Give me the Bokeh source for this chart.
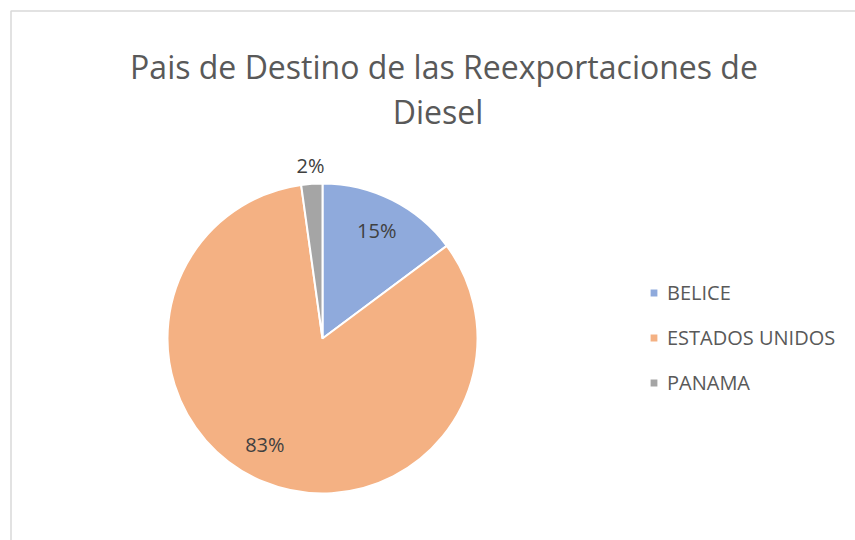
import math
from bokeh.plotting import figure
from bokeh.models import ColumnDataSource, Range1d, Legend, LegendItem
from bokeh.core.properties import value
from bokeh.embed import file_html
from bokeh.resources import INLINE

# ---- data ----
categories = ["BELICE", "ESTADOS UNIDOS", "PANAMA"]
shares = [14.8, 83.0, 2.2]
colors = ["#8FAADC", "#F4B183", "#A5A5A5"]
title_lines = ["Pais de Destino de las Reexportaciones de", "Diesel"]

W, H = 855, 540
FONT = "Open Sans"

p = figure(width=W, height=H, output_backend="svg", toolbar_location=None,
           x_range=Range1d(0, W), y_range=Range1d(0, H),
           min_border=0, outline_line_color=None)
p.axis.visible = False
p.grid.visible = False
p.background_fill_color = "white"
p.border_fill_color = "white"

# chart-area border (extends past right/bottom edge)
p.quad(left=[10.5], right=[W + 50], top=[H - 10.5], bottom=[-50],
       fill_color=None, line_color="#D9D9D9", line_width=1.5)

# pie geometry
cx, cy, r = 322, 202, 155
total = sum(shares)
starts, ends, mids = [], [], []
cum = 0.0
for s in shares:
    a0 = math.pi / 2 - cum / total * 2 * math.pi
    cum += s
    a1 = math.pi / 2 - cum / total * 2 * math.pi
    starts.append(a0)
    ends.append(a1)
    mids.append((a0 + a1) / 2)

src = ColumnDataSource(dict(cat=categories, start=starts, end=ends, color=colors))
wedges = p.wedge(x=cx, y=cy, radius=r, start_angle="start", end_angle="end",
                 direction="clock", fill_color="color", line_color="white",
                 line_width=2, source=src)

# data labels (best-fit style nudges, layout only)
label_nudge = [(0, 0), (-11, 6), (0, 0)]
lx, ly, lt = [], [], []
for s, m, (nx, ny) in zip(shares, mids, label_nudge):
    f = 1.12 if s / total < 0.05 else 0.78
    lx.append(cx + f * r * math.cos(m) + nx)
    ly.append(cy + f * r * math.sin(m) + ny)
    lt.append(f"{round(s / total * 100)}%")
p.text(x=lx, y=ly, text=lt, text_font=value(FONT), text_font_size="20px",
       text_color="#404040", text_align="center", text_baseline="middle")

# title
p.text(x=[443.5, 437.5], y=[H - 66, H - 111], text=title_lines, text_font=value(FONT),
       text_font_size="32px", text_color="#595959", text_align="center",
       text_baseline="alphabetic")

# legend
items = [LegendItem(label=c, renderers=[wedges], index=i) for i, c in enumerate(categories)]
legend = Legend(items=items, location=(648, 144), orientation="vertical",
                glyph_width=11, glyph_height=11, label_standoff=8,
                label_text_font=FONT, label_text_font_size="20px",
                label_text_color="#595959", label_height=20, spacing=18,
                padding=0, margin=0, border_line_color=None,
                background_fill_alpha=0)
p.add_layout(legend)

open("out.html", "w").write(file_html(p, INLINE))
